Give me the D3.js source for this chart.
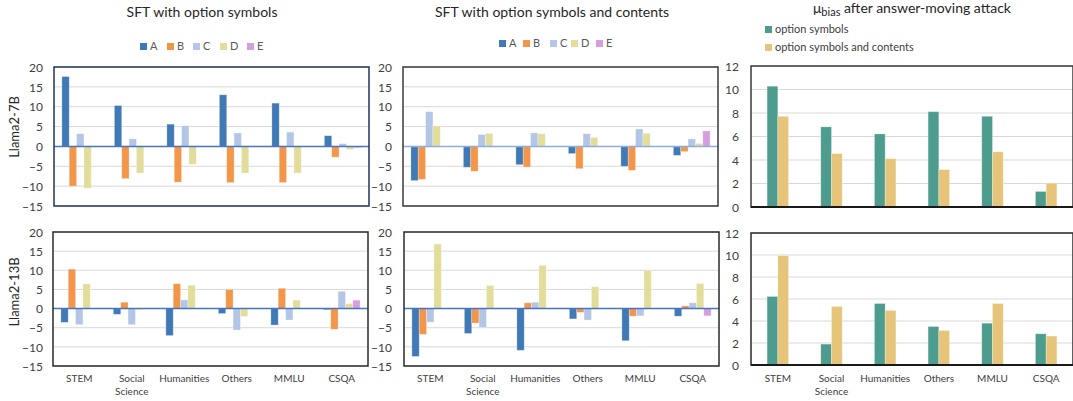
<!DOCTYPE html>
<html>
<head>
<meta charset="utf-8">
<script src="https://cdn.jsdelivr.net/npm/d3@7"></script>
<style>
  body { margin: 0; background: #fff; }
  svg { font-family: Lato, "Noto Sans", sans-serif; }
</style>
</head>
<body>
<svg width="1073" height="401"></svg>
<script>
var categories = ["STEM", "Social Science", "Humanities", "Others", "MMLU", "CSQA"];
var options = ["A", "B", "C", "D", "E"];
var leftTicks = [20, 15, 10, 5, 0, -5, -10, -15];
var rightTicks = [12, 10, 8, 6, 4, 2, 0];

// SFT with option symbols, Llama2-7B (rows = A..E)
var sym7B = [
  [17.6, 10.3, 5.6, 13.0, 10.9, 2.7],
  [-10.0, -8.1, -9.0, -9.1, -9.1, -2.7],
  [3.2, 1.9, 5.2, 3.4, 3.6, 0.7],
  [-10.5, -6.7, -4.5, -6.7, -6.7, -0.75],
  [0, 0, 0, 0, 0, -0.3]
];
// SFT with option symbols and contents, Llama2-7B
var symCont7B = [
  [-8.6, -5.25, -4.6, -1.8, -5.0, -2.25],
  [-8.3, -6.25, -5.2, -5.6, -6.0, -1.3],
  [8.75, 3.0, 3.4, 3.2, 4.4, 1.9],
  [5.2, 3.3, 3.2, 2.25, 3.3, 0.75],
  [0, 0, 0, 0, 0, 3.9]
];
// SFT with option symbols, Llama2-13B
var sym13B = [
  [-3.6, -1.5, -7.05, -1.3, -4.3, -0.3],
  [10.3, 1.65, 6.5, 5.0, 5.3, -5.4],
  [-4.2, -4.2, 2.25, -5.6, -3.0, 4.5],
  [6.45, -0.3, 6.1, -2.1, 2.2, 1.3],
  [0, 0, 0, 0, 0, 2.2]
];
// SFT with option symbols and contents, Llama2-13B
var symCont13B = [
  [-12.5, -6.5, -10.9, -2.7, -8.4, -2.0],
  [-6.75, -3.8, 1.5, -1.0, -2.0, 0.7],
  [-3.55, -4.9, 1.65, -3.0, -1.9, 1.5],
  [16.85, 6.05, 11.25, 5.7, 10.0, 6.55],
  [0, 0, 0, 0, 0, -1.9]
];
// mu_bias after answer-moving attack
var biasSeries = ["option symbols", "option symbols and contents"];
var bias7B = [
  [10.28, 6.82, 6.22, 8.11, 7.72, 1.32],
  [7.72, 4.54, 4.11, 3.18, 4.7, 2.03]
];
var bias13B = [
  [6.23, 1.9, 5.59, 3.5, 3.8, 2.84],
  [9.94, 5.32, 4.96, 3.14, 5.59, 2.63]
];

var optColors = ["#3f7ab6", "#f3964a", "#b3c6e6", "#e2dd9b", "#d59fdf"];
var biasColors = ["#4d9c8e", "#e6c57a"];

var svg = d3.select("svg");

function panel(o) {
  var g = svg.append("g");
  var x0 = d3.scaleBand().domain(categories).range([o.x, o.x + o.w]).paddingInner(o.pad).paddingOuter(o.pad / 2);
  var x1 = d3.scaleBand().domain(d3.range(o.series.length)).range([0, x0.bandwidth()]);
  var y = d3.scaleLinear().domain(o.domain).range([o.y + o.h, o.y]);

  // gridlines
  g.selectAll(".grid").data(o.ticks).enter().append("line")
    .attr("x1", o.x).attr("x2", o.x + o.w)
    .attr("y1", function(d){ return y(d); }).attr("y2", function(d){ return y(d); })
    .attr("stroke", "#d9d9d9").attr("stroke-width", 1);

  // bars
  o.series.forEach(function(vals, si){
    g.selectAll(".b" + si).data(vals).enter().append("rect")
      .attr("x", function(d, i){ return x0(categories[i]) + x1(si); })
      .attr("width", x1.bandwidth())
      .attr("y", function(d){ return y(Math.max(0, d)); })
      .attr("height", function(d){ return Math.abs(y(d) - y(0)); })
      .attr("fill", o.colors[si])
      .attr("stroke", "#ffffff").attr("stroke-opacity", 0.35).attr("stroke-width", 0.8);
  });

  // zero line
  if (o.zero) {
    g.append("line").attr("x1", o.x).attr("x2", o.x + o.w)
      .attr("y1", y(0)).attr("y2", y(0))
      .attr("stroke", o.zero).attr("stroke-width", 1.5);
  }

  // frame
  g.append("rect").attr("x", o.x).attr("y", o.y).attr("width", o.w).attr("height", o.h)
    .attr("fill", "none").attr("stroke", o.frame).attr("stroke-width", 1.5);
  if (o.baseAxis) {
    g.append("line").attr("x1", o.x).attr("x2", o.x + o.w)
      .attr("y1", y(0)).attr("y2", y(0))
      .attr("stroke", "#1a1a1a").attr("stroke-width", 2.2);
  }

  // y tick labels
  var ax = d3.axisLeft(y).tickValues(o.ticks).tickSize(0).tickPadding(0);
  var axg = g.append("g").attr("transform", "translate(" + o.labelX + ",0)").call(ax);
  axg.select(".domain").remove();
  axg.selectAll("text").attr("font-size", 12).attr("fill", "#404040")
    .attr("font-family", "Lato, 'Noto Sans', sans-serif").attr("dy", "0.35em");

  // category labels
  if (o.catLabels) {
    categories.forEach(function(c){
      var cx = x0(c) + x0.bandwidth() / 2;
      var words = c.split(" ");
      words.forEach(function(wd, k){
        g.append("text").attr("x", cx).attr("y", 382 + k * 13)
          .attr("text-anchor", "middle").attr("font-size", 10).attr("fill", "#404040").text(wd);
      });
    });
  }
}

var top_ = { y: 67, h: 139 }, bot = { y: 232, h: 134 };

panel({ x: 54, y: top_.y, w: 315, h: top_.h, pad: 0.3, series: sym7B, colors: optColors,
  domain: [-15, 20], ticks: leftTicks, zero: "#4a74c0", frame: "#22355e", labelX: 43 });
panel({ x: 403, y: top_.y, w: 315, h: top_.h, pad: 0.3, series: symCont7B, colors: optColors,
  domain: [-15, 20], ticks: leftTicks, zero: "#8fadde", frame: "#3a3a3a", labelX: 392 });
panel({ x: 751, y: 66, w: 322, h: 141, pad: 0.6, series: bias7B, colors: biasColors,
  domain: [0, 12], ticks: rightTicks, frame: "#3a3a3a", labelX: 739, baseAxis: true });

panel({ x: 53, y: bot.y, w: 315, h: bot.h, pad: 0.3, series: sym13B, colors: optColors,
  domain: [-15, 20], ticks: leftTicks, zero: "#4a74c0", frame: "#2a2a2a", labelX: 43, catLabels: true });
panel({ x: 404, y: bot.y, w: 315, h: bot.h, pad: 0.3, series: symCont13B, colors: optColors,
  domain: [-15, 20], ticks: leftTicks, zero: "#4a74c0", frame: "#2a2a2a", labelX: 392, catLabels: true });
panel({ x: 751, y: 233, w: 322, h: 132, pad: 0.6, series: bias13B, colors: biasColors,
  domain: [0, 12], ticks: rightTicks, frame: "#2a2a2a", labelX: 739, baseAxis: true, catLabels: true });

// titles
svg.append("text").attr("x", 202).attr("y", 17).attr("text-anchor", "middle")
  .attr("font-size", 14).attr("fill", "#262626").text("SFT with option symbols");
svg.append("text").attr("x", 552).attr("y", 17).attr("text-anchor", "middle")
  .attr("font-size", 14).attr("fill", "#262626").text("SFT with option symbols and contents");
var t3 = svg.append("text").attr("x", 912).attr("y", 13).attr("text-anchor", "middle")
  .attr("font-size", 14).attr("fill", "#262626");
t3.append("tspan").text("μ");
t3.append("tspan").attr("font-size", 11).attr("dy", 3).text("bias");
t3.append("tspan").attr("dy", -3).text(" after answer-moving attack");

// option legends
function optLegend(xs, yTop) {
  options.forEach(function(op, i){
    svg.append("rect").attr("x", xs[i]).attr("y", yTop).attr("width", 7).attr("height", 7).attr("fill", optColors[i]);
    svg.append("text").attr("x", xs[i] + 10).attr("y", yTop + 7).attr("font-size", 11)
      .attr("fill", "#595959").text(op);
  });
}
optLegend([140, 167, 193, 220, 247], 43);
optLegend([499, 523, 550, 571, 596], 40);

biasSeries.forEach(function(s, i){
  svg.append("rect").attr("x", 765).attr("y", 26 + i * 18).attr("width", 7).attr("height", 7).attr("fill", biasColors[i]);
  svg.append("text").attr("x", 775).attr("y", 33 + i * 18).attr("font-size", 11)
    .attr("fill", "#404040").text(s);
});

// row labels
svg.append("text").attr("transform", "translate(19,127) rotate(-90)").attr("text-anchor", "middle")
  .attr("font-size", 13).attr("fill", "#262626").text("Llama2-7B");
svg.append("text").attr("transform", "translate(19,292) rotate(-90)").attr("text-anchor", "middle")
  .attr("font-size", 13).attr("fill", "#262626").text("Llama2-13B");
</script>
</body>
</html>
